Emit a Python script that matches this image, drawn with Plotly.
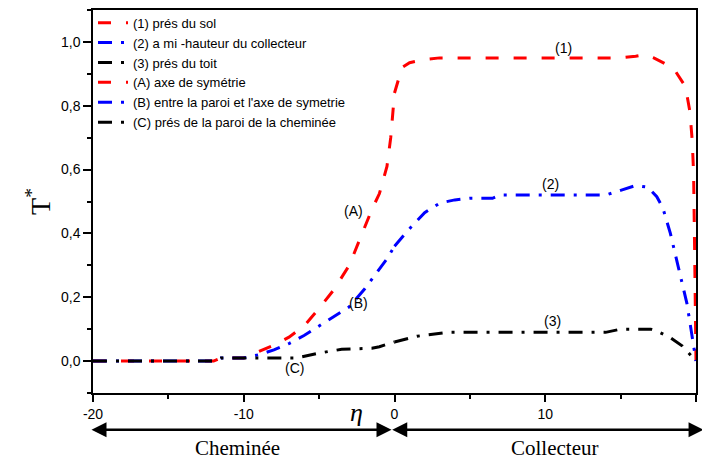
import plotly.graph_objects as go

# ---- data ----
# chimney part (eta from -20 to 0)
x_A = [-20, -16, -12, -11.5, -10, -9, -8, -7, -6, -5, -4, -3, -2, -1.5, -1, -0.5, -0.25, 0]
y_A = [0, 0, 0, 0.01, 0.01, 0.03, 0.05, 0.075, 0.11, 0.165, 0.225, 0.3, 0.42, 0.475, 0.525, 0.61, 0.70, 0.84]

x_B = [-20, -16, -12, -11.5, -10, -9, -8, -7, -6, -5, -4, -3, -2, -1, -0.5, 0]
y_B = [0, 0, 0, 0.01, 0.01, 0.02, 0.035, 0.055, 0.08, 0.11, 0.14, 0.17, 0.225, 0.29, 0.32, 0.36]

x_C = [-20, -16, -12, -11.5, -9, -6.5, -5, -3.5, -1.5, -1, 0]
y_C = [0, 0, 0, 0.01, 0.01, 0.01, 0.025, 0.037, 0.04, 0.045, 0.06]

# collector part (eta from 0 to 20)
x_1 = [0, 0.5, 1, 2, 3, 5, 8, 10, 12, 14, 15, 16, 16.6, 17.2, 18, 18.5, 19.3, 19.6, 19.75, 19.84, 19.9, 19.96, 20]
y_1 = [0.84, 0.92, 0.935, 0.945, 0.95, 0.95, 0.95, 0.95, 0.95, 0.95, 0.95, 0.955, 0.96, 0.95, 0.93, 0.918, 0.86, 0.78, 0.69, 0.59, 0.38, 0.17, 0]

x_2 = [0, 1, 2, 3, 4, 5, 6.5, 7, 10, 14, 15, 16, 16.8, 17.4, 17.8, 18.3, 18.8, 19.4, 19.7, 20]
y_2 = [0.36, 0.415, 0.465, 0.495, 0.505, 0.51, 0.51, 0.52, 0.52, 0.52, 0.535, 0.55, 0.545, 0.515, 0.48, 0.40, 0.30, 0.18, 0.09, 0.0]

x_3 = [0, 1.5, 3.6, 8, 14, 15, 17, 17.5, 18.3, 19.1, 19.7, 20]
y_3 = [0.06, 0.078, 0.09, 0.09, 0.09, 0.1, 0.1, 0.092, 0.073, 0.047, 0.017, 0]

names = ["(1) prés du sol", "(2) a mi -hauteur du collecteur", "(3) prés du toit",
         "(A) axe de symétrie", "(B) entre la paroi et l'axe de symetrie",
         "(C) prés de la paroi de la cheminée"]

x_ticks = [-20, -10, 0, 10, 20]
y_ticks = [0.0, 0.2, 0.4, 0.6, 0.8, 1.0]

curve_labels = ["(1)", "(2)", "(3)", "(A)", "(B)", "(C)"]
label_x = [11.2, 10.35, 10.45, -2.7, -2.4, -6.65]
label_y = [0.98, 0.556, 0.125, 0.47, 0.183, -0.021]

RED, BLUE, BLACK = "#ff0000", "#0000ff", "#000000"
dash_red = "13px,15px"
dash_dd = "14px,9px,3px,9px"
SANS = "Liberation Sans, Arial"
SERIF = "Liberation Serif, Times New Roman"

fig = go.Figure()
series = [
    (x_1, y_1, RED, dash_red),
    (x_2, y_2, BLUE, dash_dd),
    (x_3, y_3, BLACK, dash_dd),
    (x_A, y_A, RED, dash_red),
    (x_B, y_B, BLUE, dash_dd),
    (x_C, y_C, BLACK, dash_dd),
]
for (xs, ys, c, d), n in zip(series, names):
    fig.add_trace(go.Scatter(x=xs, y=ys, mode="lines", name=n,
                             line=dict(color=c, width=3, dash=d)))

for t, lx, ly in zip(curve_labels, label_x, label_y):
    fig.add_annotation(x=lx, y=ly, text=t, showarrow=False,
                       font=dict(family=SANS, size=14, color="black"))

# bottom double arrows and labels
arrow_y = -0.096
fig.add_annotation(x=-0.2, y=arrow_y, xref="x", yref="paper", ax=-20.2, ay=0,
                   axref="x", ayref="pixel", text="", showarrow=True,
                   arrowside="end+start", arrowhead=2, startarrowhead=2,
                   arrowsize=1.2, startarrowsize=1.2, arrowwidth=2.5, arrowcolor="black")
fig.add_annotation(x=20.5, y=arrow_y, xref="x", yref="paper", ax=-0.25, ay=0,
                   axref="x", ayref="pixel", text="", showarrow=True,
                   arrowside="end+start", arrowhead=2, startarrowhead=2,
                   arrowsize=1.2, startarrowsize=1.2, arrowwidth=2.5, arrowcolor="black")
fig.add_annotation(x=-10.4, y=-0.143, xref="x", yref="paper", yanchor="middle",
                   text="Cheminée", showarrow=False,
                   font=dict(family=SERIF, size=21, color="black"))
fig.add_annotation(x=10.6, y=-0.143, xref="x", yref="paper", yanchor="middle",
                   text="Collecteur", showarrow=False,
                   font=dict(family=SERIF, size=21, color="black"))
fig.add_annotation(x=-2.5, y=-0.05, xref="x", yref="paper", yanchor="middle",
                   text="<i>η</i>", showarrow=False,
                   font=dict(family=SERIF, size=26, color="black"))

fig.update_layout(
    width=702, height=462,
    margin=dict(l=93, r=6, t=10, b=69, autoexpand=False),
    paper_bgcolor="white", plot_bgcolor="white",
    separators=", ",
    showlegend=True,
    legend=dict(x=0.0, y=1.006, xanchor="left", yanchor="top",
                bgcolor="rgba(0,0,0,0)", borderwidth=0,
                font=dict(family=SANS, size=13, color="black"),
                tracegroupgap=0),
    font=dict(family=SANS, size=14, color="black"),
)
fig.update_xaxes(range=[-20, 20], tickvals=x_ticks, ticktext=[str(v) for v in x_ticks],
                 automargin=False, showgrid=False, zeroline=False,
                 showline=True, linecolor="black", linewidth=1.5, mirror=True,
                 ticks="outside", ticklen=7, tickwidth=1.5, tickcolor="black",
                 minor=dict(dtick=5, tick0=0, ticks="outside", ticklen=4, tickwidth=1.5, tickcolor="black"),
                 tickfont=dict(family=SANS, size=14, color="black"))
fig.update_yaxes(range=[-0.1, 1.1], tickvals=y_ticks, tickformat=".1f",
                 automargin=False, showgrid=False, zeroline=False,
                 showline=True, linecolor="black", linewidth=1.5, mirror=True,
                 ticks="outside", ticklen=8, tickwidth=1.5, tickcolor="black",
                 minor=dict(dtick=0.1, tick0=0, ticks="outside", ticklen=4, tickwidth=1.5, tickcolor="black"),
                 tickfont=dict(family=SANS, size=14, color="black"),
                 title=dict(text="T<sup>*</sup>", standoff=2,
                            font=dict(family=SERIF, size=28, color="black")))

fig.write_html("out.html", config={"displayModeBar": False},
               post_script="document.body.style.margin='0';document.body.style.overflow='hidden';")
